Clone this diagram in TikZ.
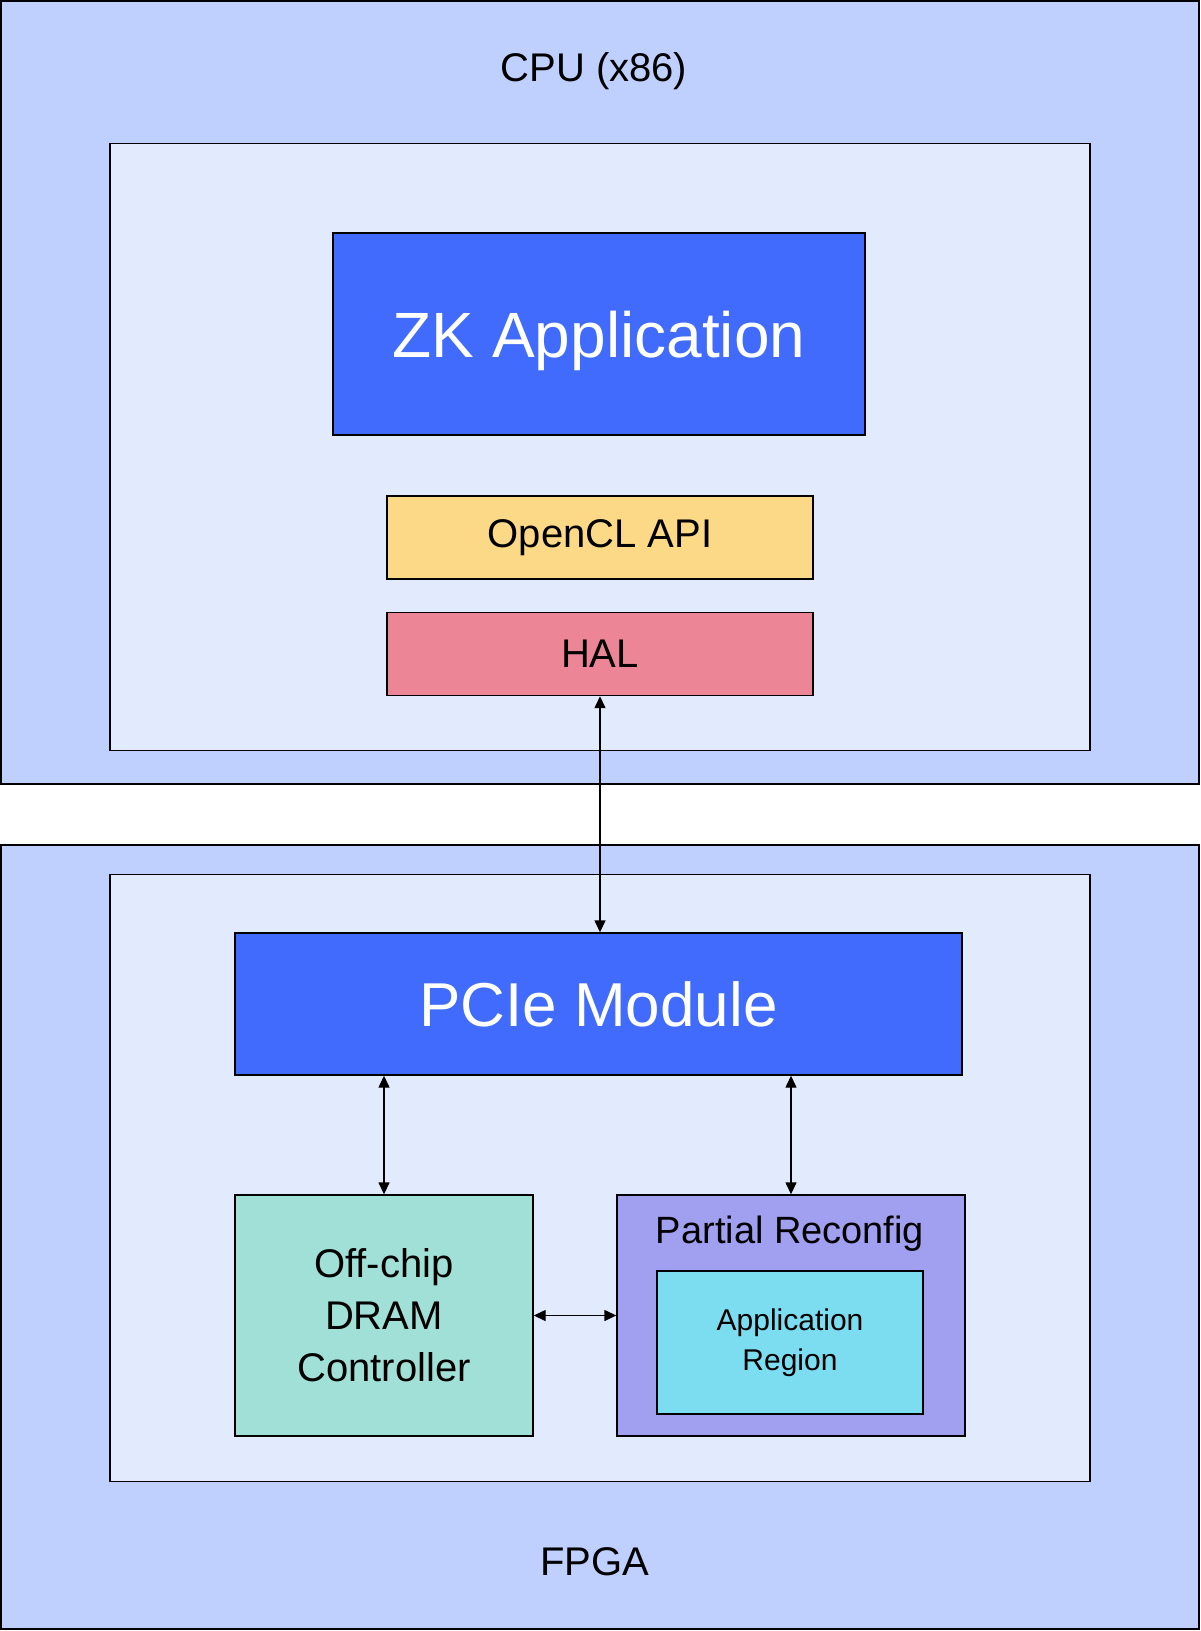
\documentclass[tikz,border=0pt]{standalone}
\usepackage{fontspec}
\setmainfont{Liberation Sans}
\usetikzlibrary{arrows.meta,positioning,calc}
\definecolor{outerblue}{HTML}{BFD0FE}
\definecolor{innerblue}{HTML}{E2EAFD}
\definecolor{zkblue}{HTML}{406BFD}
\definecolor{apiyellow}{HTML}{FBD987}
\definecolor{halred}{HTML}{EC8596}
\definecolor{dramgreen}{HTML}{A0E0D6}
\definecolor{prviolet}{HTML}{A09FF0}
\definecolor{appcyan}{HTML}{7DDDF0}
\tikzstyle{frame} = [rectangle, draw=black, line width=1pt, inner sep=0pt]
\tikzstyle{block} = [rectangle, draw=black, line width=0.7pt, inner sep=0pt, align=center]
\tikzstyle{link} = [line width=0.7pt, {Triangle[length=6pt,width=5.5pt]}-{Triangle[length=6pt,width=5.5pt]}]
\newcommand{\fs}[2]{\fontsize{#1}{#2}\selectfont}

\begin{document}
\begin{tikzpicture}[x=0.5pt, y=-0.5pt]
\useasboundingbox (0,0) rectangle (1200,1631);
% host side
\node (cpu) at (600,392.5) [frame, fill=outerblue, minimum width=599pt, minimum height=391.5pt] {};
\node (cpuin) at (600,447) [block, fill=innerblue, minimum width=490pt, minimum height=303.5pt] {};
\node (cpulbl) at (594,71) [font=\fs{20}{24}] {CPU (x86)};
\node (zk) at (599,334) [block, fill=zkblue, text=white, minimum width=266pt, minimum height=101pt, font=\fs{32}{38}, text depth=0pt] {ZK Application};
\node (ocl) at (600,537.5) [block, fill=apiyellow, minimum width=213pt, minimum height=41.5pt, font=\fs{20}{24}] {OpenCL API};
\node (hal) at (600,654) [block, fill=halred, minimum width=213pt, minimum height=41.5pt, font=\fs{20}{24}] {HAL};
% device side
\node (fpga) at (600,1237) [frame, fill=outerblue, minimum width=599pt, minimum height=392pt] {};
\node (fpgain) at (600,1178) [block, fill=innerblue, minimum width=490pt, minimum height=303.5pt] {};
\node (fpgalbl) at (595,1562) [font=\fs{20}{24}] {FPGA};
\node (pcie) at (598.5,1004) [block, fill=zkblue, text=white, minimum width=363.5pt, minimum height=71pt, font=\fs{31}{36}] {PCIe Module};
\node (dram) at (384,1315.5) [block, fill=dramgreen, minimum width=149pt, minimum height=120.5pt, font=\fs{20}{26}] {Off-chip\\DRAM\\Controller};
\node (pr) at (791,1315.5) [block, fill=prviolet, minimum width=174pt, minimum height=120.5pt] {};
\node (prlbl) at (790,1234) [font=\fs{19}{23}] {Partial Reconfig};
\node (app) at (790,1342.5) [block, fill=appcyan, minimum width=133pt, minimum height=71.5pt, font=\fs{15}{20}] {Application\\Region};
% links
\draw [link] (hal.south) -- (hal.south |- pcie.north);
\draw [link] (dram.north) -- (dram.north |- pcie.south);
\draw [link] (pr.north) -- (pr.north |- pcie.south);
\draw [link] (dram.east) -- (pr.west);
\end{tikzpicture}
\end{document}
